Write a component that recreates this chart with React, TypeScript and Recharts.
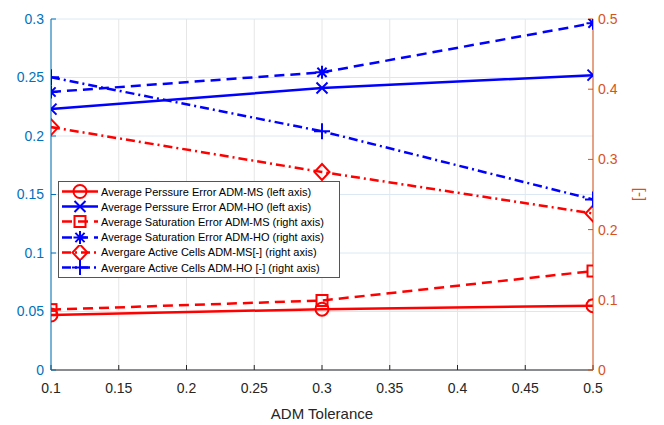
import React from 'react';
import { LineChart, Line, XAxis, YAxis, CartesianGrid, Legend, Label } from 'recharts';

const xValues = [0.1, 0.3, 0.5];
const pressureMS = [0.047, 0.052, 0.055];
const pressureHO = [0.223, 0.241, 0.252];
const saturationMS = [0.086, 0.099, 0.141];
const saturationHO = [0.396, 0.424, 0.494];
const activeMS = [0.346, 0.282, 0.223];
const activeHO = [0.417, 0.340, 0.243];

const xTicks = [0.1, 0.15, 0.2, 0.25, 0.3, 0.35, 0.4, 0.45, 0.5];
const leftTicks = [0, 0.05, 0.1, 0.15, 0.2, 0.25, 0.3];
const rightTicks = [0, 0.1, 0.2, 0.3, 0.4, 0.5];

const RED = '#ff0000';
const BLUE = '#0000ff';
const LEFT_COLOR = '#0072BD';
const RIGHT_COLOR = '#D95319';
const FONT = '"Liberation Sans", Arial, Helvetica, sans-serif';

const data = xValues.map((x, i) => ({
  x,
  pMS: pressureMS[i],
  pHO: pressureHO[i],
  sMS: saturationMS[i],
  sHO: saturationHO[i],
  aMS: activeMS[i],
  aHO: activeHO[i],
}));

type MarkerType = 'circle' | 'x' | 'square' | 'asterisk' | 'diamond' | 'plus';

const series: { key: string; name: string; color: string; axis: string; dash?: string; marker: MarkerType }[] = [
  { key: 'pMS', name: 'Average Perssure Error ADM-MS (left axis)', color: RED, axis: 'left', marker: 'circle' },
  { key: 'pHO', name: 'Average Perssure Error ADM-HO (left axis)', color: BLUE, axis: 'left', marker: 'x' },
  { key: 'sMS', name: 'Average Saturation Error ADM-MS (right axis)', color: RED, axis: 'right', dash: '10 6', marker: 'square' },
  { key: 'sHO', name: 'Average Saturation Error ADM-HO (right axis)', color: BLUE, axis: 'right', dash: '10 6', marker: 'asterisk' },
  { key: 'aMS', name: 'Avergare Active Cells ADM-MS[-] (right axis)', color: RED, axis: 'right', dash: '9 4 2 4', marker: 'diamond' },
  { key: 'aHO', name: 'Avergare Active Cells ADM-HO [-] (right axis)', color: BLUE, axis: 'right', dash: '9 4 2 4', marker: 'plus' },
];

function Marker({ type, cx, cy, color }: { type: MarkerType; cx: number; cy: number; color: string }) {
  const common = { fill: 'none', stroke: color, strokeWidth: 2 };
  switch (type) {
    case 'circle':
      return <circle cx={cx} cy={cy} r={6.5} {...common} />;
    case 'x':
      return <path d={`M${cx - 5.5},${cy - 5.5}L${cx + 5.5},${cy + 5.5}M${cx - 5.5},${cy + 5.5}L${cx + 5.5},${cy - 5.5}`} {...common} />;
    case 'square':
      return <rect x={cx - 5.5} y={cy - 5.5} width={11} height={11} {...common} />;
    case 'asterisk':
      return (
        <path
          d={`M${cx - 6.5},${cy}L${cx + 6.5},${cy}M${cx},${cy - 6.5}L${cx},${cy + 6.5}M${cx - 4.6},${cy - 4.6}L${cx + 4.6},${cy + 4.6}M${cx - 4.6},${cy + 4.6}L${cx + 4.6},${cy - 4.6}`}
          {...common}
        />
      );
    case 'diamond':
      return <path d={`M${cx},${cy - 8}L${cx + 7.5},${cy}L${cx},${cy + 8}L${cx - 7.5},${cy}Z`} {...common} />;
    case 'plus':
      return <path d={`M${cx - 8},${cy}L${cx + 8},${cy}M${cx},${cy - 8}L${cx},${cy + 8}`} {...common} />;
  }
  return null;
}

const makeDot = (type: MarkerType, color: string) => (props: any) => {
  const { cx, cy, index } = props;
  if (cx == null || cy == null) return <g key={`d-${index}`} />;
  return (
    <g key={`d-${type}-${index}`}>
      <Marker type={type} cx={cx} cy={cy} color={color} />
    </g>
  );
};

const LegendBox = () => (
  <div
    style={{
      border: '1px solid #555',
      background: '#fff',
      padding: '2px 0 2px 0',
      fontFamily: FONT,
      fontSize: 11,
      color: '#000',
      boxSizing: 'border-box',
    }}
  >
    {series.map((s) => (
      <div key={s.key} style={{ display: 'flex', alignItems: 'center', height: 15.2, whiteSpace: 'nowrap' }}>
        <svg width={42} height={15} style={{ flex: '0 0 auto' }}>
          <line x1={3} y1={7.5} x2={39} y2={7.5} stroke={s.color} strokeWidth={2.5} strokeDasharray={s.dash} />
          <Marker type={s.marker} cx={21} cy={7.5} color={s.color} />
        </svg>
        <span style={{ marginLeft: 0 }}>{s.name}</span>
      </div>
    ))}
  </div>
);

const RightLabel = (props: any) => {
  const vb = props.viewBox || {};
  const x = (vb.x ?? 593) + 47;
  const y = (vb.y ?? 19) + (vb.height ?? 351) / 2;
  return (
    <text x={x} y={y} transform={`rotate(90 ${x} ${y})`} textAnchor="middle" dominantBaseline="central" fill={RIGHT_COLOR} fontFamily={FONT} fontSize={15}>
      [-]
    </text>
  );
};

export default function App() {
  return (
    <div style={{ position: 'absolute', left: 0, top: 0, width: 664, height: 425, background: '#fff' }}>
      <LineChart width={664} height={425} data={data} margin={{ top: 19, right: 11, bottom: 0, left: 6 }}>
        <CartesianGrid yAxisId="left" xAxisId="x" horizontal={false} vertical stroke="#e6e6e6" strokeWidth={1} />
        <CartesianGrid yAxisId="left" xAxisId="x" horizontal vertical={false} stroke="#dbe8f4" strokeWidth={1} />
        <XAxis
          xAxisId="x"
          dataKey="x"
          type="number"
          domain={[0.1, 0.5]}
          ticks={xTicks}
          allowDataOverflow
          height={55}
          stroke="#262626"
          tick={{ fill: '#262626', fontFamily: FONT, fontSize: 14 }}
          tickSize={-5}
          tickMargin={18}
          tickFormatter={(v: number) => String(v)}
        >
          <Label value="ADM Tolerance" position="insideBottom" offset={6} fill="#262626" fontFamily={FONT} fontSize={15} />
        </XAxis>
        <YAxis
          yAxisId="left"
          orientation="left"
          domain={[0, 0.3]}
          ticks={leftTicks}
          allowDataOverflow
          width={45}
          stroke={LEFT_COLOR}
          tick={{ fill: LEFT_COLOR, fontFamily: FONT, fontSize: 14 }}
          tickSize={-5}
          tickMargin={12}
          tickFormatter={(v: number) => String(v)}
        />
        <YAxis
          yAxisId="right"
          orientation="right"
          domain={[0, 0.5]}
          ticks={rightTicks}
          allowDataOverflow
          width={60}
          stroke={RIGHT_COLOR}
          tick={{ fill: RIGHT_COLOR, fontFamily: FONT, fontSize: 14 }}
          tickSize={-5}
          tickMargin={10}
          tickFormatter={(v: number) => String(v)}
        >
          <Label content={<RightLabel />} />
        </YAxis>
        {series.map((s) => (
          <Line
            key={s.key}
            xAxisId="x"
            yAxisId={s.axis}
            dataKey={s.key}
            name={s.name}
            stroke={s.color}
            strokeWidth={2.5}
            strokeDasharray={s.dash}
            dot={makeDot(s.marker, s.color)}
            activeDot={false}
            isAnimationActive={false}
            type="linear"
          />
        ))}
        <Legend
          layout="vertical"
          align="center"
          verticalAlign="middle"
          content={<LegendBox />}
          wrapperStyle={{ position: 'absolute', left: 58, top: 181, width: 282 }}
        />
      </LineChart>
    </div>
  );
}
